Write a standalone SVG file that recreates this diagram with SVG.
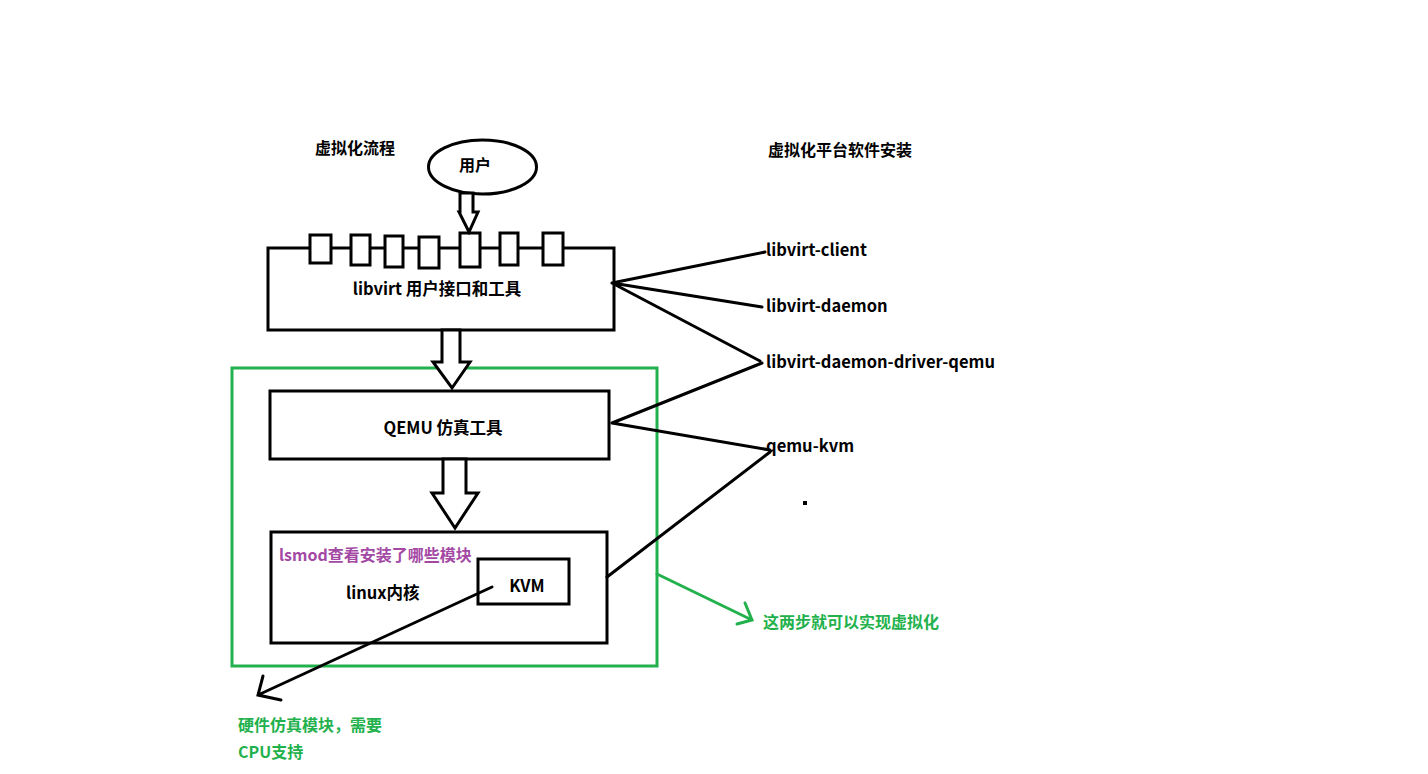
<svg xmlns="http://www.w3.org/2000/svg" width="1428" height="774" viewBox="0 0 1428 774">
<style>
text{font-family:"Noto Sans CJK SC","Noto Sans",sans-serif;font-weight:bold;font-size:16px;dominant-baseline:central}
.k{fill:#000}
.g{fill:#22b14c}
.p{fill:#a349a4}
.pk{font-size:16.5px}
.box{fill:#fff;stroke:#000;stroke-width:3}
.tab{fill:#fff;stroke:#000;stroke-width:3}
.hol{fill:#fff;stroke:#000;stroke-width:3;stroke-linejoin:miter}
.ln{fill:none;stroke:#000;stroke-width:3;stroke-linecap:round}
.gl{fill:none;stroke:#22b14c;stroke-width:3;stroke-linecap:round}
</style>
<rect width="1428" height="774" fill="#fff"/>
<text class="k" x="315" y="147">虚拟化流程</text>
<text class="k" x="768" y="149">虚拟化平台软件安装</text>

<g id="user">
<ellipse cx="482.5" cy="167" rx="54" ry="27" fill="#fff" stroke="#000" stroke-width="3"/>
<text class="k" x="475" y="164" text-anchor="middle">用户</text>
</g>

<g id="libvirt">
<rect class="box" x="268" y="248" width="346" height="82"/>
<rect class="tab" x="310" y="235" width="21" height="28"/>
<rect class="tab" x="351" y="235" width="19" height="30"/>
<rect class="tab" x="385" y="236" width="18" height="31"/>
<rect class="tab" x="419" y="237" width="20" height="31"/>
<rect class="tab" x="460" y="233" width="20" height="34"/>
<rect class="tab" x="500" y="233" width="18" height="32"/>
<rect class="tab" x="543" y="233" width="20" height="32"/>
<text class="k pk" x="437" y="288" text-anchor="middle">libvirt 用户接口和工具</text>
</g>

<g id="green-frame">
<rect x="232" y="368" width="425" height="298" fill="none" stroke="#22b14c" stroke-width="3"/>
</g>

<g id="qemu">
<rect class="box" x="270" y="391" width="339" height="68"/>
<text class="k pk" x="443" y="427" text-anchor="middle">QEMU 仿真工具</text>
</g>

<g id="kernel">
<rect class="box" x="271" y="532" width="336" height="111"/>
<text class="p" x="279" y="554">lsmod查看安装了哪些模块</text>
<text class="k pk" x="346" y="592">linux内核</text>
</g>

<g id="kvm">
<rect class="box" x="478" y="559" width="91" height="45"/>
<text class="k pk" x="527" y="585" text-anchor="middle">KVM</text>
</g>

<g id="packages">
<text class="k pk" x="766" y="249">libvirt-client</text>
<text class="k pk" x="766" y="305">libvirt-daemon</text>
<text class="k pk" x="766" y="361">libvirt-daemon-driver-qemu</text>
<text class="k pk" x="766" y="445">qemu-kvm</text>
<rect x="803" y="501" width="4" height="4" fill="#000"/>
</g>

<g id="notes">
<text class="g" x="763" y="621">这两步就可以实现虚拟化</text>
<text class="g" x="238" y="724">硬件仿真模块，需要</text>
<text class="g" x="238" y="751">CPU支持</text>
</g>

<g id="connectors">
<polygon class="hol" points="460,193 473,193 473,212 478,212 469,232 459,212 460,212"/>
<polygon class="hol" points="442,330 460,330 460,362 470,362 452,388 433,362 442,362"/>
<polygon class="hol" points="443,459 466,459 466,493 478,493 455,528 432,493 443,493"/>
<path class="ln" d="M612,283 L765,252 M612,283 L762,307 M612,283 L760,361"/>
<path class="ln" d="M612,423 L762,363 M612,423 L770,450"/>
<path class="ln" d="M607,577 L770,452"/>
<path class="ln" d="M492,587 L258,695 M263,676 L258,695 L281,700"/>
<path class="gl" d="M657,574 L752,620 M745,603 L752,620 L737,624"/>
</g>
</svg>
